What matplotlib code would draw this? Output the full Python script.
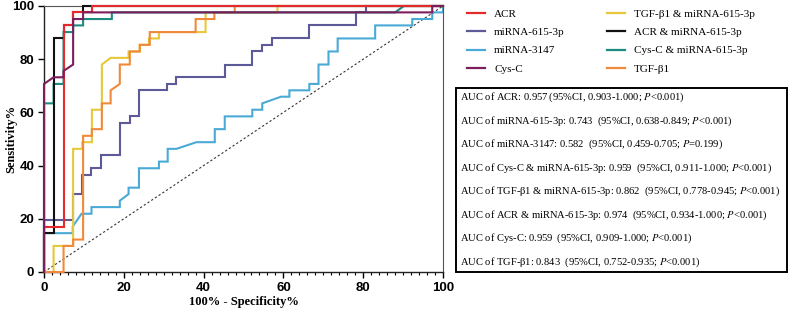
import matplotlib
matplotlib.use("Agg")
import matplotlib.pyplot as plt
from matplotlib.lines import Line2D

# ---- data (100% - specificity, sensitivity) ----
acr_x = [0, 0, 4.9, 4.9, 7.3, 7.3, 12.0, 12.0, 100]
acr_y = [0, 17.1, 17.1, 92.7, 92.7, 97.6, 97.6, 100, 100]

mir615_x = [0, 0, 7.3, 7.3, 9.4, 9.4, 11.9, 11.9, 14.4, 14.4, 19.0, 19.0, 21.5, 21.5,
            23.8, 23.8, 30.9, 30.9, 33.2, 33.2, 45.3, 45.3, 52.2, 52.2, 54.7, 54.7,
            57.1, 57.1, 66.5, 66.5, 78.2, 78.2, 80.7, 80.7, 100]
mir615_y = [0, 19.5, 19.5, 29.3, 29.3, 36.6, 36.6, 39.0, 39.0, 43.9, 43.9, 56.1, 56.1, 58.5,
            58.5, 68.3, 68.3, 70.7, 70.7, 73.2, 73.2, 78.0, 78.0, 82.9, 82.9, 85.4,
            85.4, 87.8, 87.8, 92.7, 92.7, 97.6, 97.6, 100, 100]

mir3147_x = [0, 0, 7.2, 7.2, 9.4, 11.9, 11.9, 19.0, 19.0, 21.2, 21.2, 23.8, 23.8, 28.8,
             28.8, 31.0, 31.0, 33.2, 38.2, 42.8, 42.8, 45.3, 45.3, 52.2, 52.2, 54.7,
             54.7, 59.4, 61.5, 61.5, 66.5, 66.5, 68.8, 68.8, 71.3, 71.3, 73.6, 73.6,
             83.0, 83.0, 92.3, 92.3, 97.3, 97.3, 100, 100]
mir3147_y = [0, 14.6, 14.6, 17.1, 21.9, 21.9, 24.4, 24.4, 26.8, 29.3, 31.7, 31.7, 39.0, 39.0,
             41.5, 41.5, 46.3, 46.3, 48.8, 48.8, 53.7, 53.7, 58.5, 58.5, 61.0, 61.0,
             63.4, 65.9, 65.9, 68.3, 68.3, 70.7, 70.7, 78.0, 78.0, 82.9, 82.9, 87.8,
             87.8, 92.7, 92.7, 95.1, 95.1, 97.6, 97.6, 100]

cysc_x = [0, 0, 2.4, 4.9, 4.9, 7.3, 7.3, 9.8, 9.8, 97.3, 97.3, 100]
cysc_y = [0, 70.7, 73.2, 73.2, 75.6, 78.0, 95.1, 95.1, 97.6, 97.6, 100, 100]

tgf_mir_x = [0, 2.4, 2.4, 7.3, 7.3, 9.6, 9.6, 12.0, 12.0, 14.5, 14.5, 16.7, 21.2, 21.2,
             24.0, 24.0, 26.3, 26.3, 28.8, 28.8, 40.5, 40.5, 58.5, 58.5, 100]
tgf_mir_y = [0, 0, 9.8, 9.8, 46.3, 46.3, 48.8, 48.8, 61.0, 61.0, 78.0, 80.5, 80.5, 82.9,
             82.9, 85.4, 85.4, 87.8, 87.8, 90.2, 90.2, 97.6, 97.6, 100, 100]

acr_mir_x = [0, 0, 2.4, 2.4, 4.9, 4.9, 7.3, 7.3, 9.8, 9.8, 100]
acr_mir_y = [0, 14.6, 14.6, 87.8, 87.8, 92.7, 92.7, 97.6, 97.6, 100, 100]

cysc_mir_x = [0, 0, 2.4, 2.4, 4.9, 4.9, 7.3, 7.3, 9.8, 9.8, 17.0, 17.0, 88.0, 90.2, 100]
cysc_mir_y = [0, 63.4, 63.4, 70.7, 70.7, 90.2, 90.2, 92.7, 92.7, 95.1, 95.1, 97.6, 97.6, 100, 100]

tgf_x = [0, 4.9, 4.9, 7.3, 7.3, 9.8, 9.8, 12.0, 12.0, 14.5, 14.5, 16.7, 16.7, 19.0, 19.0,
         21.5, 21.5, 24.0, 24.0, 26.5, 26.5, 38.0, 38.0, 42.7, 42.7, 47.8, 47.8, 100]
tgf_y = [0, 0, 9.8, 9.8, 12.2, 12.2, 51.2, 51.2, 53.7, 53.7, 63.4, 63.4, 68.3, 70.7, 78.0,
         78.0, 82.9, 82.9, 85.4, 85.4, 90.2, 90.2, 95.1, 95.1, 97.6, 97.6, 100, 100]

labels = ["ACR", "miRNA-615-3p", "miRNA-3147", "Cys-C",
          "TGF-β1 & miRNA-615-3p", "ACR & miRNA-615-3p", "Cys-C & miRNA-615-3p", "TGF-β1"]
colors = ["#e42a2a", "#5c5a98", "#4aaad6", "#7c1d5c",
          "#e6c83a", "#111111", "#1c8c80", "#f08a3a"]
curves = [(acr_x, acr_y), (mir615_x, mir615_y), (mir3147_x, mir3147_y), (cysc_x, cysc_y),
          (tgf_mir_x, tgf_mir_y), (acr_mir_x, acr_mir_y), (cysc_mir_x, cysc_mir_y), (tgf_x, tgf_y)]

auc_lines = [
    ("ACR", "0.957", "0.903-1.000", "<0.001"),
    ("miRNA-615-3p", "0.743 ", "0.638-0.849", "<0.001"),
    ("miRNA-3147", "0.582 ", "0.459-0.705", "=0.199"),
    ("Cys-C & miRNA-615-3p", "0.959 ", "0.911-1.000", "<0.001"),
    ("TGF-β1 & miRNA-615-3p", "0.862 ", "0.778-0.945", "<0.001"),
    ("ACR & miRNA-615-3p", "0.974 ", "0.934-1.000", "<0.001"),
    ("Cys-C", "0.959 ", "0.909-1.000", "<0.001"),
    ("TGF-β1", "0.843 ", "0.752-0.935", "<0.001"),
]

plt.rcParams["mathtext.fontset"] = "stix"

fig = plt.figure(figsize=(7.9, 3.13), dpi=100)
ax = fig.add_axes([44 / 790, 1 - 272 / 313, 399 / 790, 266 / 313])

# reference diagonal
ax.plot([0, 100], [0, 100], ls=(0, (2, 2)), color="#333333", lw=0.8, zorder=1)

# drawing order so the right curves end up on top
order = [2, 1, 4, 7, 6, 5, 0, 3]
for i in order:
    x, y = curves[i]
    ax.plot(x, y, color=colors[i], lw=1.5, solid_joinstyle="miter", zorder=2 + order.index(i),
            clip_on=False)

ax.set_xlim(0, 100)
ax.set_ylim(0, 100)
ax.set_xticks([0, 20, 40, 60, 80, 100])
ax.set_xticks(range(0, 101, 2), minor=True)
ax.set_yticks([0, 20, 40, 60, 80, 100])
tick_font = dict(family="Liberation Sans", weight="bold", size=9.5)
ax.set_xticklabels(["0", "20", "40", "60", "80", "100"], **tick_font)
ax.set_yticklabels(["0", "20", "40", "60", "80", "100"], **tick_font)
ax.tick_params(axis="both", which="major", length=4, width=1.0, pad=3)
ax.tick_params(axis="x", which="minor", length=2.5, width=0.8)
for side in ["left", "bottom"]:
    ax.spines[side].set_linewidth(1.0)
    ax.spines[side].set_color("#222222")
for side in ["top", "right"]:
    ax.spines[side].set_linewidth(0.8)
    ax.spines[side].set_color("#555555")

lab_font = dict(family="Liberation Serif", weight="bold", size=9)
ax.set_xlabel("100% - Specificity%", labelpad=2, **lab_font)
ax.set_ylabel("Sensitivity%", **lab_font)
ax.yaxis.set_label_coords(-0.068, 0.5)

# legend, two columns outside the plot
for col in range(2):
    handles = [Line2D([], [], color=colors[k], lw=1.6) for k in range(col * 4, col * 4 + 4)]
    leg = fig.legend(handles, labels[col * 4:col * 4 + 4],
                     loc="upper left",
                     bbox_to_anchor=((463 if col == 0 else 603) / 790, 1 - 5 / 313),
                     frameon=False, handlelength=1.6, handletextpad=0.8,
                     labelspacing=0.75, borderaxespad=0,
                     prop=dict(family="Liberation Serif", size=8))

# AUC summary box
fig.patches.append(plt.Rectangle((456 / 790, 1 - 272 / 313), 331 / 790, 184 / 313,
                                 transform=fig.transFigure, fill=False,
                                 edgecolor="black", lw=1.4))
top_y, step = 97.5, 23.5
for k, (name, auc, ci, p) in enumerate(auc_lines):
    yy = 1 - (top_y + k * step) / 313
    fig.text(460 / 790, yy, f"AUC of {name}: {auc} (95%CI, {ci}; $P${p})",
             ha="left", va="center", family="Liberation Serif", size=7.55)

fig.savefig("out.png", dpi=100)
